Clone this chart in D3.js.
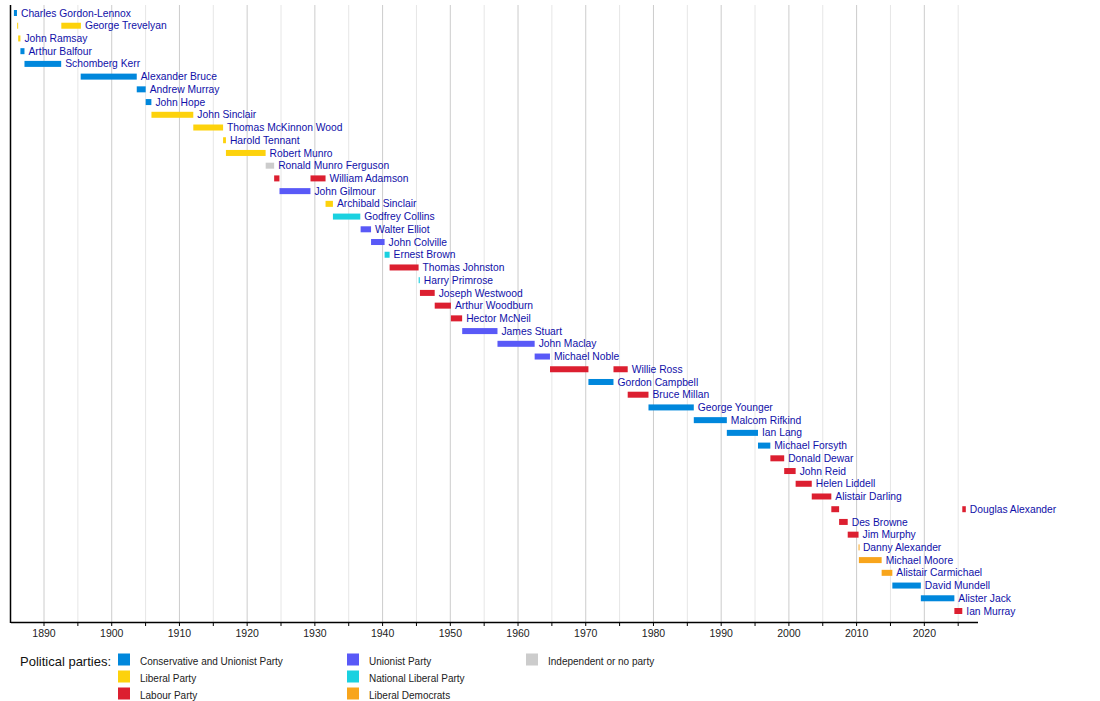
<!DOCTYPE html>
<html>
<head>
<meta charset="utf-8">
<script src="https://cdn.jsdelivr.net/npm/d3@7"></script>
<style>
  body { margin: 0; background: #fff; }
  svg { display: block; font-family: "Liberation Sans", Arial, sans-serif; }
</style>
</head>
<body>
<div id="chart_area"></div>
<script>
// Office holders, one row each (top to bottom)
var names = ["Charles Gordon-Lennox", "George Trevelyan", "John Ramsay", "Arthur Balfour",
  "Schomberg Kerr", "Alexander Bruce", "Andrew Murray", "John Hope", "John Sinclair",
  "Thomas McKinnon Wood", "Harold Tennant", "Robert Munro", "Ronald Munro Ferguson",
  "William Adamson", "John Gilmour", "Archibald Sinclair", "Godfrey Collins", "Walter Elliot",
  "John Colville", "Ernest Brown", "Thomas Johnston", "Harry Primrose", "Joseph Westwood",
  "Arthur Woodburn", "Hector McNeil", "James Stuart", "John Maclay", "Michael Noble",
  "Willie Ross", "Gordon Campbell", "Bruce Millan", "George Younger", "Malcom Rifkind",
  "Ian Lang", "Michael Forsyth", "Donald Dewar", "John Reid", "Helen Liddell",
  "Alistair Darling", "Douglas Alexander", "Des Browne", "Jim Murphy", "Danny Alexander",
  "Michael Moore", "Alistair Carmichael", "David Mundell", "Alister Jack", "Ian Murray"];

// Terms of office: row index, party key, start and end (decimal years)
var termRow   = [0, 1, 1, 2, 3, 4, 5, 6, 7, 8, 9, 10, 11, 12, 13, 13, 14, 15, 16, 17, 18, 19,
  20, 21, 22, 23, 24, 25, 26, 27, 28, 28, 29, 30, 31, 32, 33, 34, 35, 36, 37, 38, 39, 39,
  40, 41, 42, 43, 44, 45, 46, 47];
var termParty = ["con", "lib", "lib", "lib", "con", "con", "con", "con", "con", "lib", "lib",
  "lib", "lib", "ind", "lab", "lab", "uni", "lib", "nlib", "uni", "uni", "nlib", "lab", "nlib",
  "lab", "lab", "lab", "uni", "uni", "uni", "lab", "lab", "con", "lab", "con", "con", "con",
  "con", "lab", "lab", "lab", "lab", "lab", "lab", "lab", "lab", "ld", "ld", "ld", "con",
  "con", "lab"];
var termStart = [1885.63, 1886.11, 1892.63, 1886.26, 1886.59, 1887.19, 1895.49, 1903.77,
  1905.09, 1905.94, 1912.12, 1916.52, 1916.94, 1922.81, 1924.06, 1929.43, 1924.85, 1931.65,
  1932.74, 1936.83, 1938.37, 1940.37, 1941.11, 1945.40, 1945.59, 1947.77, 1950.16, 1951.83,
  1957.04, 1962.53, 1964.80, 1974.17, 1970.47, 1976.27, 1979.34, 1986.03, 1990.91, 1995.51,
  1997.34, 1999.38, 2001.07, 2003.45, 2006.34, 2025.68, 2007.49, 2008.76, 2010.36, 2010.41,
  2013.77, 2015.35, 2019.56, 2024.51];
var termEnd   = [1886.08, 1886.21, 1895.52, 1886.59, 1887.19, 1892.61, 1903.77, 1905.09,
  1905.93, 1912.12, 1916.52, 1916.94, 1922.80, 1924.06, 1924.84, 1931.65, 1929.42, 1932.74,
  1936.78, 1938.37, 1940.37, 1941.11, 1945.39, 1945.57, 1947.77, 1950.16, 1951.82, 1957.04,
  1962.53, 1964.79, 1970.47, 1976.27, 1974.17, 1979.34, 1986.03, 1990.91, 1995.51, 1997.33,
  1999.38, 2001.07, 2003.45, 2006.34, 2007.49, 2026.20, 2008.76, 2010.36, 2010.41, 2013.77,
  2015.35, 2019.56, 2024.51, 2025.68];

// Legend / party colours
var partyKeys   = ["con", "lib", "lab", "uni", "nlib", "ld", "ind"];
var partyLabels = ["Conservative and Unionist Party", "Liberal Party", "Labour Party",
  "Unionist Party", "National Liberal Party", "Liberal Democrats", "Independent or no party"];
var partyColors = ["#0087dc", "#fdd20c", "#dc1f30", "#5959f7", "#1ad1e0", "#f8a51c", "#cccccc"];

var tickYears = [1890, 1900, 1910, 1920, 1930, 1940, 1950, 1960, 1970, 1980, 1990, 2000, 2010, 2020];

// Frame
var frame_width = 1100, frame_height = 701;
var svg = d3.select("#chart_area").append("svg")
    .attr("width", frame_width)
    .attr("height", frame_height);

var plotTop = 5, plotBottom = 622;

// Scales
var xScale = d3.scaleLinear().domain([1885.2, 2028]).range([11, 978]);
var yScale = d3.scalePoint().domain(d3.range(names.length)).range([13, 611]);
var colour = d3.scaleOrdinal().domain(partyKeys).range(partyColors);

// Grid lines, 5-year minor and 10-year major
var minorYears = d3.range(1890, 2028, 5).filter(function(y) { return y % 10 !== 0; });
svg.append("g").selectAll("line").data(minorYears).enter().append("line")
    .attr("x1", function(d) { return xScale(d) + 0.5; })
    .attr("x2", function(d) { return xScale(d) + 0.5; })
    .attr("y1", plotTop).attr("y2", plotBottom)
    .attr("stroke", "#e6e6e6");
svg.append("g").selectAll("line").data(tickYears).enter().append("line")
    .attr("x1", function(d) { return xScale(d) + 0.5; })
    .attr("x2", function(d) { return xScale(d) + 0.5; })
    .attr("y1", plotTop).attr("y2", plotBottom)
    .attr("stroke", "#cccccc");

// Axes
var xAxis = d3.axisBottom(xScale)
    .tickValues(d3.range(1890, 2028, 5))
    .tickSize(4)
    .tickFormat(function(d) { return d % 10 === 0 ? d : ""; });
var gx = svg.append("g")
    .attr("transform", "translate(0," + plotBottom + ")")
    .call(xAxis);
gx.select(".domain").attr("d", "M" + xScale.range()[0] + ",0.5H" + xScale.range()[1]).attr("stroke", "#000").attr("stroke-width", 1.5);
gx.selectAll(".tick line").attr("stroke", "#000");
gx.selectAll(".tick text")
    .attr("y", 8)
    .attr("font-family", "Liberation Sans, Arial, sans-serif")
    .attr("font-size", 10.5)
    .attr("fill", "#222");

svg.append("line")
    .attr("x1", 10.5).attr("x2", 10.5)
    .attr("y1", plotTop).attr("y2", plotBottom + 1)
    .attr("stroke", "#000").attr("stroke-width", 1.5);

// Bars
var terms = d3.range(termRow.length);
var barH = 6;
svg.append("g").selectAll("rect").data(terms).enter().append("rect")
    .attr("x", function(i) { return xScale(termStart[i]); })
    .attr("width", function(i) { return Math.max(1, xScale(termEnd[i]) - xScale(termStart[i])); })
    .attr("y", function(i) { return yScale(termRow[i]) - barH / 2; })
    .attr("height", barH)
    .attr("fill", function(i) { return colour(termParty[i]); });

// Labels after each holder's last term
var lastEnd = names.map(function(n, r) {
  return d3.max(terms.filter(function(i) { return termRow[i] === r; }), function(i) { return termEnd[i]; });
});
svg.append("g").selectAll("text").data(names).enter().append("text")
    .attr("x", function(d, r) { return xScale(lastEnd[r]) + 4; })
    .attr("y", function(d, r) { return yScale(r); })
    .attr("dy", "0.35em")
    .attr("font-size", 10.3)
    .attr("fill", "#1010a8")
    .text(function(d) { return d; });

// Legend
var legend = svg.append("g");
legend.append("text")
    .attr("x", 20).attr("y", 661).attr("dy", "0.35em")
    .attr("font-size", 13).attr("fill", "#111")
    .text("Political parties:");
var legX = [118, 347, 526];
var legItem = legend.selectAll("g.item").data(partyKeys).enter().append("g")
    .attr("class", "item")
    .attr("transform", function(d, i) {
      return "translate(" + legX[Math.floor(i / 3)] + "," + (660 + (i % 3) * 17) + ")";
    });
legItem.append("rect")
    .attr("x", 0).attr("y", -6.5)
    .attr("width", 12).attr("height", 12)
    .attr("fill", function(d) { return colour(d); });
legItem.append("text")
    .attr("x", 22).attr("y", 1).attr("dy", "0.35em")
    .attr("font-size", 10).attr("fill", "#222")
    .text(function(d, i) { return partyLabels[i]; });
</script>
</body>
</html>
